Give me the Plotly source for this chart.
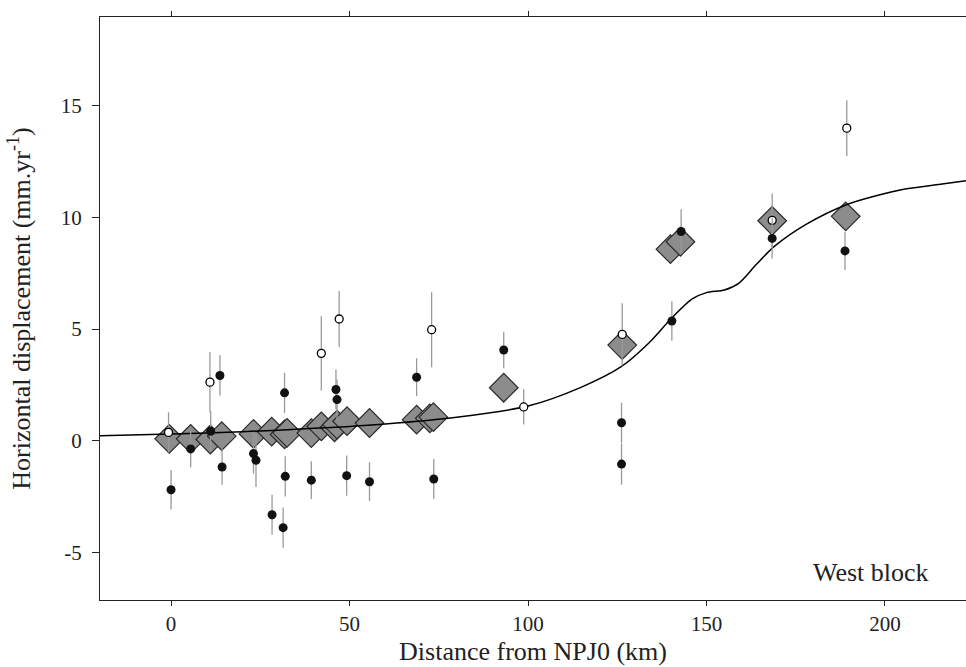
import plotly.graph_objects as go

# Model curve
curve_x = [-20, 0, 20, 40, 60, 80, 100, 115, 126, 134, 140, 146, 150, 155, 159, 164, 169, 178, 189, 197, 206, 216, 223]
curve_y = [0.22, 0.3, 0.4, 0.55, 0.75, 1.05, 1.55, 2.4, 3.3, 4.4, 5.45, 6.35, 6.63, 6.75, 7.05, 7.9, 8.7, 9.7, 10.56, 10.95, 11.28, 11.5, 11.65]

# Modelled displacement at stations (grey diamonds)
dia_x = [-0.5, 5.5, 11.0, 14.2, 23.1, 28.2, 31.8, 32.5, 39.3, 42.1, 45.8, 46.5, 49.3, 55.6, 68.8, 72.5, 73.5, 93.2, 126.4, 139.9, 142.7, 168.4, 189.0]
dia_y = [0.08, 0.08, 0.05, 0.2, 0.3, 0.4, 0.28, 0.35, 0.34, 0.64, 0.6, 0.72, 0.87, 0.79, 0.94, 1.0, 1.05, 2.37, 4.28, 8.58, 8.91, 9.85, 10.05]

# Observed displacement, filled circles
fil_x = [0.0, 5.5, 11.1, 13.7, 14.3, 23.1, 23.8, 28.3, 31.4, 31.8, 32.0, 39.3, 46.2, 46.5, 49.2, 55.6, 68.8, 73.6, 93.2, 126.2, 126.2, 140.3, 142.9, 168.4, 188.8]
fil_y = [-2.2, -0.37, 0.42, 2.92, -1.18, -0.58, -0.88, -3.32, -3.9, 2.14, -1.6, -1.77, 2.29, 1.84, -1.57, -1.84, 2.84, -1.72, 4.06, 0.8, -1.05, 5.36, 9.37, 9.06, 8.5]
fil_e = [0.88, 0.82, 0.9, 0.9, 0.8, 0.9, 1.2, 0.9, 0.9, 0.9, 0.9, 0.85, 0.9, 0.9, 0.9, 0.87, 0.85, 0.9, 0.82, 0.9, 0.92, 0.88, 1.0, 0.9, 0.85]

# Observed displacement, open circles
opn_x = [-0.7, 10.9, 42.1, 47.1, 73.0, 98.8, 126.4, 168.4, 189.3]
opn_y = [0.37, 2.62, 3.91, 5.45, 4.97, 1.51, 4.76, 9.87, 14.0]
opn_e = [0.9, 1.35, 1.66, 1.25, 1.68, 0.79, 1.4, 1.2, 1.25]

x_ticks = [0, 50, 100, 150, 200]
x_labels = ["0", "50", "100", "150", "200"]
y_ticks = [-5, 0, 5, 10, 15]
y_labels = ["-5", "0", "5", "10", "15"]

fig = go.Figure()
fig.add_trace(go.Scatter(x=dia_x, y=dia_y, mode="markers",
                         marker=dict(symbol="diamond", size=22, color="#8c8c8c",
                                     line=dict(color="#2a2a2a", width=1.2)),
                         showlegend=False, hoverinfo="skip"))
fig.add_trace(go.Scatter(x=curve_x, y=curve_y, mode="lines",
                         line=dict(color="black", width=1.5, shape="spline", smoothing=0.8),
                         showlegend=False))
fig.add_trace(go.Scatter(x=opn_x, y=opn_y, mode="markers",
                         error_y=dict(type="data", array=opn_e, visible=True, color="#9a9a9a", thickness=1.3, width=0),
                         marker=dict(symbol="circle", size=8, color="white", line=dict(color="black", width=1.3)),
                         showlegend=False))
fig.add_trace(go.Scatter(x=fil_x, y=fil_y, mode="markers",
                         error_y=dict(type="data", array=fil_e, visible=True, color="#9a9a9a", thickness=1.3, width=0),
                         marker=dict(symbol="circle", size=9, color="#111111", line=dict(width=0)),
                         showlegend=False))

font_family = "Liberation Serif"
fig.update_layout(
    width=966, height=667,
    margin=dict(l=100, r=0, t=17, b=67, autoexpand=False),
    plot_bgcolor="white", paper_bgcolor="white",
    font=dict(family=font_family, color="#222", size=21),
    xaxis=dict(range=[-19.9, 222.7], tickvals=x_ticks, ticktext=x_labels, ticks="outside", ticklen=5,
               tickcolor="#222", showline=True, linecolor="#222", linewidth=1, mirror="ticks",
               showgrid=False, zeroline=False, automargin=False,
               title=dict(text="Distance from NPJ0 (km)", font=dict(size=26), standoff=6),
               tickfont=dict(size=21)),
    yaxis=dict(range=[-7.14, 18.98], tickvals=y_ticks, ticktext=y_labels, ticks="outside", ticklen=7,
               tickcolor="#222", showline=True, linecolor="#222", linewidth=1,
               showgrid=False, zeroline=False, automargin=False, ticklabelstandoff=6,
               title=dict(text="Horizontal displacement (mm.yr<sup>-1</sup>)", font=dict(size=26), standoff=22),
               tickfont=dict(size=21)),
    annotations=[dict(text="West block", x=212.9, y=-5.93, xref="x", yref="y", xanchor="right", yanchor="middle",
                      showarrow=False, font=dict(size=26, family=font_family, color="#222"))],
)

fig.write_html("out.html", config={"displayModeBar": False},
               post_script="document.body.style.margin='0';document.body.style.overflow='hidden';")
